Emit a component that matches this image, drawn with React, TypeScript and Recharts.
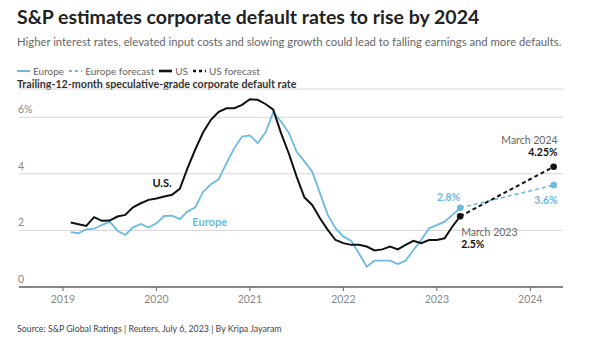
import React from 'react';
import { LineChart, Line, XAxis, YAxis, CartesianGrid, ReferenceDot } from 'recharts';

const FONT = 'Lato, "Noto Sans", sans-serif';
const BLUE = '#6cb9e2';
const BLACK = '#111111';

// month-end dates, Jan 2019 .. Mar 2023
const months: string[] = [];
for (let y = 2019; y <= 2023; y++) {
  for (let m = 1; m <= 12; m++) {
    if (y === 2023 && m > 3) break;
    months.push(`${y}-${String(m).padStart(2, '0')}`);
  }
}

const usValues = [
  2.28, 2.22, 2.16, 2.47, 2.34, 2.35, 2.49, 2.55, 2.82, 2.96, 3.08, 3.13,
  3.2, 3.26, 3.47, 4.2, 4.87, 5.47, 5.91, 6.19, 6.32, 6.32, 6.44, 6.64,
  6.62, 6.47, 6.27, 5.44, 4.72, 3.9, 3.17, 2.9, 2.43, 2.02, 1.66, 1.55,
  1.49, 1.49, 1.43, 1.29, 1.33, 1.43, 1.33, 1.49, 1.63, 1.55, 1.66, 1.66,
  1.72, 2.14, 2.5,
];

const europeValues = [
  1.94, 1.9, 2.04, 2.06, 2.19, 2.31, 1.99, 1.84, 2.11, 2.23, 2.1, 2.25,
  2.51, 2.52, 2.4, 2.67, 2.82, 3.37, 3.63, 3.81, 4.38, 4.91, 5.32, 5.36,
  5.09, 5.46, 6.17, 5.85, 5.45, 4.79, 4.44, 4.08, 3.32, 2.55, 2.08, 1.78,
  1.64, 1.19, 0.72, 0.93, 0.93, 0.93, 0.81, 0.93, 1.31, 1.66, 2.08, 2.19,
  2.31, 2.55, 2.8,
];

const forecastMonths = ['2023-03', '2024-03'];
const usForecast = [2.5, 4.25];
const europeForecast = [2.8, 3.6];

const yearTicks = [2019, 2020, 2021, 2022, 2023, 2024];
const yTicks = [0, 2, 4, 6];
const yTickLabels = ['0', '2', '4', '6%'];

const toX = (m: string) => {
  const [y, mo] = m.split('-').map(Number);
  return y + mo / 12;
};

const data: any[] = months.map((m, i) => ({ x: toX(m), us: usValues[i], europe: europeValues[i] }));
forecastMonths.forEach((m, i) => {
  const x = toX(m);
  let row = data.find((d) => d.x === x);
  if (!row) {
    row = { x };
    data.push(row);
  }
  row.usF = usForecast[i];
  row.europeF = europeForecast[i];
});

const note = (text: string, color: string, weight: number, anchor: string, dx: number, dy: number, size = 10.5) => (props: any) => {
  const vb = props.viewBox || {};
  return (
    <text
      x={vb.x + dx}
      y={vb.y + dy}
      fill={color}
      fontWeight={weight}
      fontSize={size}
      fontFamily={FONT}
      textAnchor={anchor}
    >
      {text}
    </text>
  );
};

const renderYTick = ({ y, payload }: any) => (
  <text x={18} y={y - 4} fill="#888" fontSize={10.5} fontFamily={FONT} textAnchor="start">
    {yTickLabels[yTicks.indexOf(payload.value)]}
  </text>
);

const Swatch = ({ color, dashed, thick }: any) => (
  <svg width={13} height={8} style={{ marginRight: 3 }}>
    <line x1={0} y1={4} x2={13} y2={4} stroke={color} strokeWidth={thick ? 2.6 : 2} strokeDasharray={dashed ? '3 3' : undefined} />
  </svg>
);

export default function App() {
  const dots = (color: string) => ({ r: 3.3, fill: color, stroke: color, strokeWidth: 0 });
  return (
    <div style={{ position: 'fixed', left: 0, top: 0, width: 589, height: 350, background: '#fff', fontFamily: FONT, overflow: 'hidden' }}>
      <div style={{ position: 'absolute', left: 17, top: 5, fontSize: 19.5, fontWeight: 700, color: '#222', whiteSpace: 'nowrap' }}>
        S&amp;P estimates corporate default rates to rise by 2024
      </div>
      <div style={{ position: 'absolute', left: 17, top: 35, fontSize: 11.3, color: '#666', whiteSpace: 'nowrap' }}>
        Higher interest rates, elevated input costs and slowing growth could lead to falling earnings and more defaults.
      </div>
      <div style={{ position: 'absolute', left: 17, top: 65, fontSize: 10, color: '#666', whiteSpace: 'nowrap', display: 'flex', alignItems: 'center' }}>
        <Swatch color={BLUE} /><span style={{ marginRight: 5 }}>Europe</span>
        <Swatch color={BLUE} dashed /><span style={{ marginRight: 5 }}>Europe forecast</span>
        <Swatch color={BLACK} thick /><span style={{ marginRight: 5 }}>US</span>
        <Swatch color={BLACK} dashed thick /><span>US forecast</span>
      </div>
      <div style={{ position: 'absolute', left: 17, top: 77, fontSize: 10.7, fontWeight: 700, color: '#333', whiteSpace: 'nowrap' }}>
        Trailing-12-month speculative-grade corporate default rate
      </div>
      <div style={{ position: 'absolute', left: 0, top: 0 }}>
        <LineChart width={589} height={350} data={data} margin={{ top: 89, right: 26, bottom: 43, left: 18 }}>
          <CartesianGrid vertical={false} stroke="#d6d6d6" />
          <XAxis
            type="number"
            dataKey="x"
            domain={[2018.53, 2024.35]}
            ticks={yearTicks}
            allowDataOverflow
            height={20}
            tick={{ fill: '#888', fontSize: 10.5, fontFamily: FONT }}
            tickLine={{ stroke: '#666' }}
            tickSize={4}
            tickMargin={5}
            axisLine={{ stroke: '#666', strokeWidth: 1.5 }}
          />
          <YAxis
            width={1}
            domain={[0, 7]}
            ticks={yTicks}
            interval={0}
            axisLine={false}
            tickLine={false}
            tick={renderYTick}
          />
          <Line dataKey="europe" stroke={BLUE} strokeWidth={1.8} dot={false} isAnimationActive={false} />
          <Line dataKey="us" stroke={BLACK} strokeWidth={2} dot={false} isAnimationActive={false} />
          <Line dataKey="europeF" stroke={BLUE} strokeWidth={1.6} strokeDasharray="4 3" dot={dots(BLUE)} activeDot={false} isAnimationActive={false} />
          <Line dataKey="usF" stroke={BLACK} strokeWidth={2} strokeDasharray="4 3" dot={dots(BLACK)} activeDot={false} isAnimationActive={false} />
          <ReferenceDot x={2020.06} y={3.54} r={0} stroke="none" fill="none" label={note('U.S.', BLACK, 700, 'middle', 0, 0, 11)} />
          <ReferenceDot x={2020.57} y={2.16} r={0} stroke="none" fill="none" label={note('Europe', BLUE, 700, 'middle', 0, 0, 11)} />
          <ReferenceDot x={toX('2023-03')} y={europeForecast[0]} r={0} stroke="none" fill="none" label={note('2.8%', BLUE, 700, 'end', 0, -7)} />
          <ReferenceDot x={toX('2023-03')} y={usForecast[0]} r={0} stroke="none" fill="none" label={note('March 2023', '#666', 400, 'start', 1, 20)} />
          <ReferenceDot x={toX('2023-03')} y={usForecast[0]} r={0} stroke="none" fill="none" label={note('2.5%', BLACK, 700, 'start', 1, 32)} />
          <ReferenceDot x={toX('2024-03')} y={usForecast[1]} r={0} stroke="none" fill="none" label={note('March 2024', '#666', 400, 'end', 4, -23)} />
          <ReferenceDot x={toX('2024-03')} y={usForecast[1]} r={0} stroke="none" fill="none" label={note('4.25%', BLACK, 700, 'end', 4, -11)} />
          <ReferenceDot x={toX('2024-03')} y={europeForecast[1]} r={0} stroke="none" fill="none" label={note('3.6%', BLUE, 700, 'end', 4, 19)} />
        </LineChart>
      </div>
      <div style={{ position: 'absolute', left: 17, top: 323, fontSize: 8.8, color: '#444', whiteSpace: 'nowrap' }}>
        Source: S&amp;P Global Ratings | Reuters, July 6, 2023 | By Kripa Jayaram
      </div>
    </div>
  );
}
